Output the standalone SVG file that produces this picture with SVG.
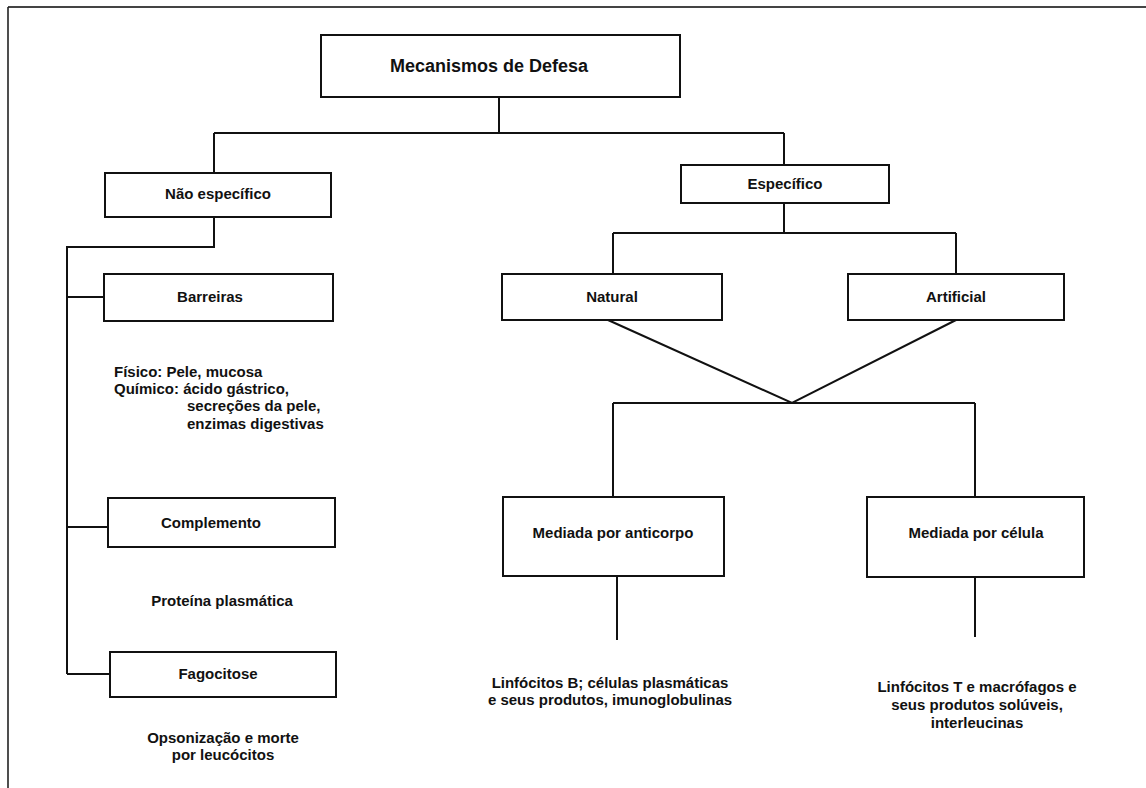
<svg xmlns="http://www.w3.org/2000/svg" width="1146" height="788" viewBox="0 0 1146 788">
<style>
.box{fill:#fff;stroke:#111;stroke-width:2}
.ln{fill:none;stroke:#111;stroke-width:2}
.t{font-family:"Liberation Sans",Arial,sans-serif;font-weight:bold;font-size:15px;fill:#111;text-anchor:middle}
.tl{font-family:"Liberation Sans",Arial,sans-serif;font-weight:bold;font-size:15px;fill:#111}
.title{font-family:"Liberation Sans",Arial,sans-serif;font-weight:bold;font-size:18px;fill:#111;text-anchor:middle}
</style>
<rect width="1146" height="788" fill="#fff"/>
<g id="frame">
<line x1="8" y1="7" x2="1146" y2="7" stroke="#444" stroke-width="2"/>
<line x1="8" y1="7" x2="8" y2="788" stroke="#222" stroke-width="1.6"/>
</g>
<g id="connectors">
<path class="ln" d="M499 97V133M214 133H784M214 133V173M784 133V165"/>
<path class="ln" d="M214 217V247H67V674M67 297H104M67 527H108M67 674H110"/>
<path class="ln" d="M784 203V233M613 233H956M613 233V274M956 233V274"/>
<path class="ln" d="M608 320L792 403L956 320"/>
<path class="ln" d="M613 403H975M613 403V497M975 403V497"/>
<path class="ln" d="M617 576V640M975 577V637"/>
</g>
<g id="n-mecanismos"><rect class="box" x="321" y="35" width="359" height="62"/><text class="title" x="489" y="72">Mecanismos de Defesa</text></g>
<g id="n-naoespecifico"><rect class="box" x="105" y="173" width="226" height="44"/><text class="t" x="218" y="199">Não específico</text></g>
<g id="n-especifico"><rect class="box" x="681" y="165" width="208" height="38"/><text class="t" x="785" y="189">Específico</text></g>
<g id="n-natural"><rect class="box" x="502" y="274" width="220" height="46"/><text class="t" x="612" y="302">Natural</text></g>
<g id="n-artificial"><rect class="box" x="848" y="274" width="216" height="46"/><text class="t" x="956" y="302">Artificial</text></g>
<g id="n-barreiras"><rect class="box" x="104" y="274" width="229" height="47"/><text class="t" x="210" y="302">Barreiras</text></g>
<g id="t-barreiras">
<text class="tl" x="114" y="377">Físico: Pele, mucosa</text>
<text class="tl" x="114" y="394">Químico: ácido gástrico,</text>
<text class="tl" x="187" y="411">secreções da pele,</text>
<text class="tl" x="187" y="429">enzimas digestivas</text>
</g>
<g id="n-complemento"><rect class="box" x="108" y="498" width="227" height="49"/><text class="t" x="211" y="528">Complemento</text></g>
<g id="t-complemento"><text class="t" x="222" y="606">Proteína plasmática</text></g>
<g id="n-fagocitose"><rect class="box" x="110" y="652" width="226" height="45"/><text class="t" x="218" y="679">Fagocitose</text></g>
<g id="t-fagocitose"><text class="t" x="223" y="743">Opsonização e morte</text><text class="t" x="223" y="760">por leucócitos</text></g>
<g id="n-anticorpo"><rect class="box" x="503" y="497" width="221" height="79"/><text class="t" x="613" y="538">Mediada por anticorpo</text></g>
<g id="t-anticorpo"><text class="t" x="610" y="688">Linfócitos B; células plasmáticas</text><text class="t" x="610" y="705">e seus produtos, imunoglobulinas</text></g>
<g id="n-celula"><rect class="box" x="867" y="497" width="217" height="80"/><text class="t" x="976" y="538">Mediada por célula</text></g>
<g id="t-celula"><text class="t" x="977" y="692">Linfócitos T e macrófagos e</text><text class="t" x="977" y="710">seus produtos solúveis,</text><text class="t" x="977" y="728">interleucinas</text></g>
</svg>
